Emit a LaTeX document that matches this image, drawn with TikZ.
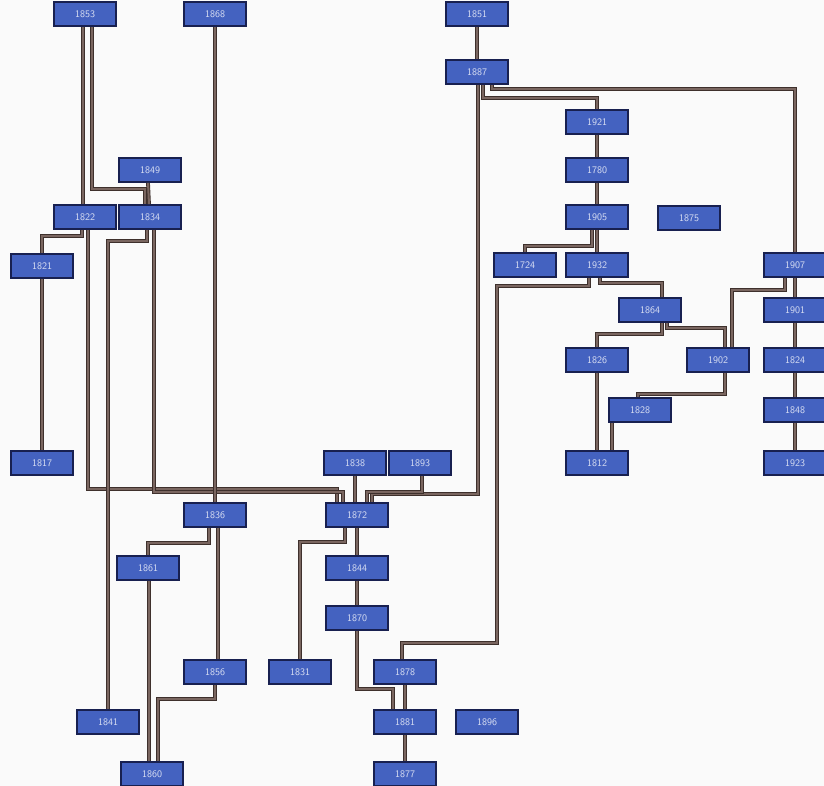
\documentclass[tikz,border=0pt]{standalone}
\usepackage{tikz}
\usetikzlibrary{positioning,calc}
\definecolor{boxblue}{RGB}{68,98,192}
\definecolor{boxedge}{RGB}{24,32,80}
\definecolor{linkbrown}{RGB}{122,102,96}
\definecolor{linkedge}{RGB}{62,48,44}
\definecolor{paper}{RGB}{250,250,250}

\begin{document}
\begin{tikzpicture}[
    x=1pt, y=-1pt,
    block/.style={rectangle, draw=boxedge, line width=1.8pt, fill=boxblue, minimum width=62pt, minimum height=24pt, inner sep=0pt, text=white!80!boxblue, font=\sffamily\fontsize{10}{11}\selectfont},
    link/.style={draw=linkedge, line width=0.9pt, double=linkbrown, double distance=2pt}
]
\useasboundingbox (0,0) rectangle (824,786);
\fill[paper] (0,0) rectangle (824,786);

% Left column
\node[block] (n1853) at (85,14) {1853};
\node[block] (n1868) at (215,14) {1868};
\node[block] (n1849) at (150,170) {1849};
\node[block] (n1822) at (85,217) {1822};
\node[block] (n1834) at (150,217) {1834};
\node[block] (n1821) at (42,266) {1821};
\node[block] (n1817) at (42,463) {1817};

% Right part
\node[block] (n1851) at (477,14) {1851};
\node[block] (n1887) at (477,72) {1887};
\node[block] (n1921) at (597,122) {1921};
\node[block] (n1780) at (597,170) {1780};
\node[block] (n1905) at (597,217) {1905};
\node[block] (n1875) at (689,218) {1875};
\node[block] (n1724) at (525,265) {1724};
\node[block] (n1932) at (597,265) {1932};
\node[block] (n1907) at (795,265) {1907};
\node[block] (n1864) at (650,310) {1864};
\node[block] (n1901) at (795,310) {1901};
\node[block] (n1826) at (597,360) {1826};
\node[block] (n1902) at (718,360) {1902};
\node[block] (n1824) at (795,360) {1824};
\node[block] (n1828) at (640,410) {1828};
\node[block] (n1848) at (795,410) {1848};
\node[block] (n1812) at (597,463) {1812};
\node[block] (n1923) at (795,463) {1923};

% Lower middle
\node[block] (n1838) at (355,463) {1838};
\node[block] (n1893) at (420,463) {1893};
\node[block] (n1836) at (215,515) {1836};
\node[block] (n1872) at (357,515) {1872};
\node[block] (n1861) at (148,568) {1861};
\node[block] (n1844) at (357,568) {1844};
\node[block] (n1870) at (357,618) {1870};
\node[block] (n1856) at (215,672) {1856};
\node[block] (n1831) at (300,672) {1831};
\node[block] (n1878) at (405,672) {1878};
\node[block] (n1841) at (108,722) {1841};
\node[block] (n1881) at (405,722) {1881};
\node[block] (n1896) at (487,722) {1896};
\node[block] (n1860) at (152,774) {1860};
\node[block] (n1877) at (405,774) {1877};

% Edges (left)
\draw[link] ([xshift=-2pt]n1853.south) -- ([xshift=-2pt]n1822.north);
\draw[link] ([xshift=7pt]n1853.south) -- ++(0,162) -| ([xshift=-5pt]n1834.north);
\draw[link] ([xshift=-2pt]n1849.south) -- ([xshift=-1pt]n1834.north);
\draw[link] ([xshift=-3pt]n1822.south) -- ++(0,6) -| (n1821.north);
\draw[link] (n1821.south) -- (n1817.north);
\draw[link] ([xshift=3pt]n1822.south) -- ++(0,259) -| ([xshift=-20pt]n1872.north);
\draw[link] ([xshift=4pt]n1834.south) -- ++(0,262) -| ([xshift=-14pt]n1872.north);
\draw[link] ([xshift=-3pt]n1834.south) -- ++(0,11) -| (n1841.north);
\draw[link] (n1868.south) -- (n1836.north);
\draw[link] ([xshift=-6pt]n1836.south) -- ++(0,15) -| (n1861.north);
\draw[link] ([xshift=3pt]n1836.south) -- ([xshift=3pt]n1856.north);
\draw[link] ([xshift=1pt]n1861.south) -- ([xshift=-3pt]n1860.north);
\draw[link] (n1856.south) -- ++(0,14) -| ([xshift=6pt]n1860.north);

% Edges (right)
\draw[link] (n1851.south) -- (n1887.north);
\draw[link] ([xshift=1pt]n1887.south) -- ++(0,409) -| ([xshift=15pt]n1872.north);
\draw[link] ([xshift=6pt]n1887.south) -- ++(0,13) -| (n1921.north);
\draw[link] ([xshift=15pt]n1887.south) -- ++(0,4) -| (n1907.north);
\draw[link] (n1921.south) -- (n1780.north);
\draw[link] (n1780.south) -- (n1905.north);
\draw[link] (n1905.south) -- (n1932.north);
\draw[link] ([xshift=-5pt]n1905.south) -- ++(0,16) -| (n1724.north);
\draw[link] ([xshift=-8pt]n1932.south) |- ++(-92,8) -- ++(0,357) -| ([xshift=-3pt]n1878.north);
\draw[link] ([xshift=3pt]n1932.south) -- ++(0,5) -| ([xshift=12pt]n1864.north);
\draw[link] (n1907.south) -- (n1901.north);
\draw[link] ([xshift=-10pt]n1907.south) -- ++(0,12) -| ([xshift=14pt]n1902.north);
\draw[link] (n1901.south) -- (n1824.north);
\draw[link] (n1824.south) -- (n1848.north);
\draw[link] (n1848.south) -- (n1923.north);
\draw[link] ([xshift=12pt]n1864.south) -- ++(0,11) -| (n1826.north);
\draw[link] ([xshift=17pt]n1864.south) -- ++(0,5) -| ([xshift=7pt]n1902.north);
\draw[link] ([xshift=7pt]n1902.south) -- ++(0,21) -| ([xshift=-2pt]n1828.north);
\draw[link] (n1826.south) -- (n1812.north);
\draw[link] ([xshift=-28pt]n1828.south) -- ([xshift=15pt]n1812.north);

% Edges (lower middle)
\draw[link] (n1838.south) -- (n1838.south |- n1872.north);
\draw[link] ([xshift=2pt]n1893.south) -- ++(0,16) -| ([xshift=10pt]n1872.north);
\draw[link] (n1872.south) -- (n1844.north);
\draw[link] ([xshift=-12pt]n1872.south) -- ++(0,14) -| (n1831.north);
\draw[link] (n1844.south) -- (n1870.north);
\draw[link] (n1870.south) -- ++(0,58) -| ([xshift=-12pt]n1881.north);
\draw[link] (n1878.south) -- (n1881.north);
\draw[link] (n1881.south) -- (n1877.north);

\end{tikzpicture}
\end{document}
